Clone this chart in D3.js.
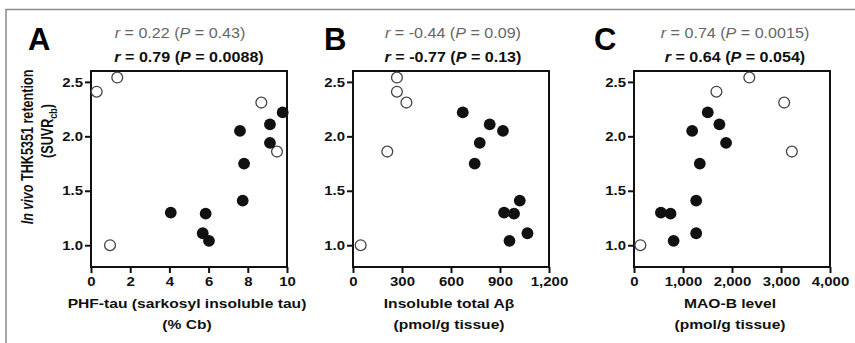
<!DOCTYPE html>
<html>
<head>
<meta charset="utf-8">
<script src="https://cdn.jsdelivr.net/npm/d3@7"></script>
<style>
  body { margin: 0; background: #fff; }
  svg { display: block; font-family: "Liberation Sans", Arial, sans-serif; }
</style>
</head>
<body>
<div class="chart"></div>
<script>
// retention (SUVRcb), same subjects in every panel
var openY   = [2.54, 2.41, 2.31, 1.86, 1.00];
var filledY = [2.22, 2.11, 2.05, 1.94, 1.75, 1.41, 1.30, 1.29, 1.11, 1.04];

// panel A: PHF-tau (% Cb)
var tauOpen   = [1.34, 0.29, 8.69, 9.49, 0.97];
var tauFilled = [9.78, 9.13, 7.60, 9.13, 7.81, 7.74, 4.07, 5.85, 5.70, 6.02];
// panel B: insoluble total Abeta (pmol/g)
var abOpen   = [269, 269, 327, 210, 47];
var abFilled = [672, 837, 918, 776, 745, 1021, 925, 986, 1068, 958];
// panel C: MAO-B (pmol/g)
var maoOpen   = [2353, 1682, 3065, 3222, 130];
var maoFilled = [1505, 1743, 1187, 1879, 1343, 1269, 549, 746, 1269, 808];

var yTicks = [1.0, 1.5, 2.0, 2.5];
var yTickLabels = ["1.0", "1.5", "2.0", "2.5"];
var tauTicks = [0, 2, 4, 6, 8, 10];
var tauTickLabels = ["0", "2", "4", "6", "8", "10"];
var abTicks = [0, 300, 600, 900, 1200];
var abTickLabels = ["0", "300", "600", "900", "1,200"];
var maoTicks = [0, 1000, 2000, 3000, 4000];
var maoTickLabels = ["0", "1,000", "2,000", "3,000", "4,000"];

var letters = ["A", "B", "C"];
var rAll = ["0.22", "-0.44", "0.74"];
var pAll = ["0.43", "0.09", "0.0015"];
var rSub = ["0.79", "-0.77", "0.64"];
var pSub = ["0.0088", "0.13", "0.054"];
var xLab1 = ["PHF-tau (sarkosyl insoluble tau)", "Insoluble total A\u03b2", "MAO-B level"];
var xLab2 = ["(% Cb)", "(pmol/g tissue)", "(pmol/g tissue)"];

var W = 855, H = 343;
var SX = 1.15; // text in the figure is a bit wide
var plotTop = 71, plotBottom = 267, pw = 196;
var lefts = [91, 353, 634];
var letterX = [28, 324, 594];
var t1Shift = [-9, 2, 3];
var t2Shift = [0, 2, 3];

var panels = [
  {open: tauOpen, filled: tauFilled, max: 10, ticks: tauTicks, labels: tauTickLabels},
  {open: abOpen, filled: abFilled, max: 1200, ticks: abTicks, labels: abTickLabels},
  {open: maoOpen, filled: maoFilled, max: 4000, ticks: maoTicks, labels: maoTickLabels}
];

var svg = d3.select(".chart").append("svg")
  .attr("width", W).attr("height", H);

svg.append("rect").attr("width", W).attr("height", H).attr("fill", "#fff");

// cropped outer border (top + left only)
svg.append("path")
  .attr("d", `M6,${H} L6,9.5 L${W},9.5`)
  .attr("fill", "none")
  .attr("stroke", "#8c8c8c")
  .attr("stroke-width", 1.5);

var yScale = d3.scaleLinear().domain([0.8, 2.6]).range([plotBottom, plotTop]);

function stretch(x, y) { return `translate(${x},${y}) scale(${SX},1)`; }

panels.forEach(function(p, i) {
  var x0 = lefts[i];
  var cx = x0 + pw / 2;
  var xScale = d3.scaleLinear().domain([0, p.max]).range([x0, x0 + pw]);

  // panel letter
  svg.append("text")
    .attr("x", letterX[i]).attr("y", 50)
    .attr("font-size", 31).attr("font-weight", "bold")
    .text(letters[i]);

  // correlation lines
  var t1 = svg.append("text")
    .attr("transform", stretch(cx + t1Shift[i], 38))
    .attr("text-anchor", "middle")
    .attr("font-size", 14).attr("fill", "#666");
  t1.append("tspan").attr("font-style", "italic").text("r");
  t1.append("tspan").text(" = " + rAll[i] + " (");
  t1.append("tspan").attr("font-style", "italic").text("P");
  t1.append("tspan").text(" = " + pAll[i] + ")");

  var t2 = svg.append("text")
    .attr("transform", stretch(cx + t2Shift[i], 62))
    .attr("text-anchor", "middle")
    .attr("font-size", 14).attr("font-weight", "bold").attr("fill", "#111");
  t2.append("tspan").attr("font-style", "italic").text("r");
  t2.append("tspan").text(" = " + rSub[i] + " (");
  t2.append("tspan").attr("font-style", "italic").text("P");
  t2.append("tspan").text(" = " + pSub[i] + ")");

  // axes
  var xAxis = d3.axisBottom(xScale).tickValues(p.ticks)
    .tickFormat((d, k) => p.labels[k]).tickSize(6).tickSizeOuter(0).tickPadding(4);
  var yAxis = d3.axisLeft(yScale).tickValues(yTicks)
    .tickFormat((d, k) => yTickLabels[k]).tickSize(6).tickSizeOuter(0);

  svg.append("g")
    .attr("transform", `translate(0,${plotBottom})`)
    .call(xAxis)
    .attr("font-family", null).attr("font-size", 13)
    .call(g => {
      g.select(".domain").remove();
      g.selectAll("line").attr("stroke", "#111").attr("stroke-width", 2);
      g.selectAll("text")
        .attr("transform", `scale(${SX},1)`)
        .attr("fill", "#111").attr("font-weight", "bold");
    });

  svg.append("g")
    .attr("transform", `translate(${x0},0)`)
    .call(yAxis)
    .attr("font-family", null).attr("font-size", 13)
    .call(g => {
      g.select(".domain").remove();
      g.selectAll("line").attr("stroke", "#111").attr("stroke-width", 2);
      g.selectAll("text")
        .attr("x", 0)
        .attr("transform", `translate(-8,0) scale(${SX},1)`)
        .attr("fill", "#111").attr("font-weight", "bold");
    });

  // plot frame
  svg.append("rect")
    .attr("x", x0).attr("y", plotTop)
    .attr("width", pw).attr("height", plotBottom - plotTop)
    .attr("fill", "none").attr("stroke", "#111").attr("stroke-width", 2);

  // x labels
  svg.append("text")
    .attr("transform", stretch(cx - 2, 308))
    .attr("text-anchor", "middle")
    .attr("font-size", 13.6).attr("font-weight", "bold").attr("fill", "#111")
    .text(xLab1[i]);
  svg.append("text")
    .attr("transform", stretch(cx - 2, 329))
    .attr("text-anchor", "middle")
    .attr("font-size", 13.6).attr("font-weight", "bold").attr("fill", "#111")
    .text(xLab2[i]);

  // points
  var g = svg.append("g");
  g.selectAll(".open")
    .data(p.open.map((v, k) => ({x: v, y: openY[k]})))
    .enter().append("circle")
    .attr("class", "open")
    .attr("cx", d => xScale(d.x)).attr("cy", d => yScale(d.y))
    .attr("r", 5.4)
    .attr("fill", "#fff").attr("stroke", "#444").attr("stroke-width", 1.3);
  g.selectAll(".filled")
    .data(p.filled.map((v, k) => ({x: v, y: filledY[k]})))
    .enter().append("circle")
    .attr("class", "filled")
    .attr("cx", d => xScale(d.x)).attr("cy", d => yScale(d.y))
    .attr("r", 5.9)
    .attr("fill", "#111");
});

// y axis title (shared, left of panel A)
var yl1 = svg.append("text")
  .attr("transform", `translate(33,147) scale(1.3,1) rotate(-90)`)
  .attr("text-anchor", "middle")
  .attr("font-size", 12.6).attr("font-weight", "bold").attr("fill", "#111");
yl1.append("tspan").attr("font-style", "italic").text("In vivo");
yl1.append("tspan").text(" THK5351 retention");

var yl2 = svg.append("text")
  .attr("transform", `translate(53,131) scale(1.3,1) rotate(-90)`)
  .attr("text-anchor", "middle")
  .attr("font-size", 12.6).attr("font-weight", "bold").attr("fill", "#111");
yl2.append("tspan").text("(SUVR");
yl2.append("tspan").attr("font-size", 9).attr("dy", 3).text("cb");
yl2.append("tspan").attr("dy", -3).text(")");
</script>
</body>
</html>
